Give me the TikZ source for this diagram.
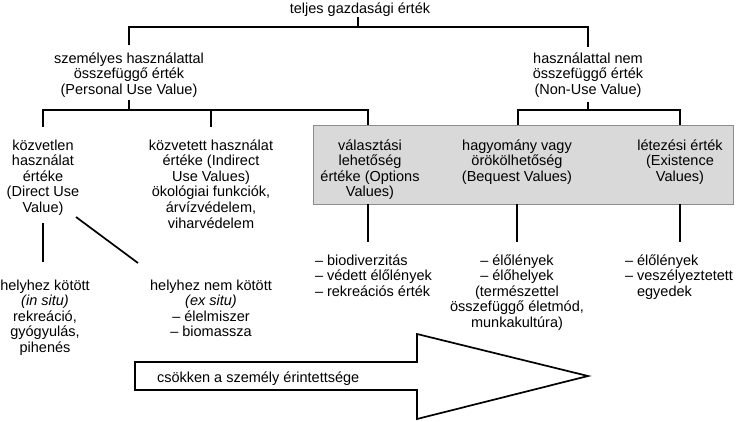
\documentclass[tikz,border=0pt]{standalone}
\usepackage{fontspec}
\setmainfont{Liberation Sans}
\newcommand\myst{\rule{0pt}{12pt}}
\definecolor{boxfill}{HTML}{D9D9D9}
\definecolor{boxline}{HTML}{8C8C8C}
\begin{document}
\begin{tikzpicture}[x=1pt,y=-1pt,
  ln/.style={line width=1.7pt, draw=black},
  txt/.style={inner sep=0pt, outer sep=0pt, font=\fontsize{14.5}{15.6}\selectfont, anchor=north, align=center},
  ltxt/.style={txt, align=left, anchor=north west}]
\useasboundingbox (0,0) rectangle (737,421);

% gray box
\node[draw=boxline, fill=boxfill, line width=1pt, inner sep=0pt, minimum width=420pt, minimum height=79pt, anchor=north west] (optbox) at (313,125) {};

% texts
\node[txt] (top) at (360,1) {\myst teljes gazdasági érték};
\node[txt] (pers) at (129,51) {\myst személyes használattal\\összefüggő érték\\(Personal Use Value)};
\node[txt] (nonuse) at (588,51) {\myst használattal nem\\összefüggő érték\\(Non-Use Value)};
\node[txt] (direct) at (43,138) {\myst közvetlen\\használat\\értéke\\(Direct Use\\Value)};
\node[txt] (indirect) at (211,138) {\myst közvetett használat\\értéke (Indirect\\Use Values)\\ökológiai funkciók,\\árvízvédelem,\\viharvédelem};
\node[txt] (option) at (370,138) {\myst választási\\lehetőség\\értéke (Options\\Values)};
\node[txt] (bequest) at (517,138) {\myst hagyomány vagy\\örökölhetőség\\(Bequest Values)};
\node[txt] (exist) at (680,138) {\myst létezési érték\\(Existence\\Values)};
\node[ltxt] (optlist) at (315,253) {\myst – biodiverzitás\\– védett élőlények\\– rekreációs érték};
\node[txt] (beqlist) at (517,253) {\myst – élőlények\\– élőhelyek\\(természettel\\összefüggő életmód,\\munkakultúra)};
\node[ltxt] (exlist) at (625,253) {\myst – élőlények\\– veszélyeztetett\\\phantom{– }egyedek};
\node[txt] (insitu) at (45,278) {\myst helyhez kötött\\\textit{(in situ)}\\rekreáció,\\gyógyulás,\\pihenés};
\node[txt] (exsitu) at (211,278) {\myst helyhez nem kötött\\\textit{(ex situ)}\\– élelmiszer\\– biomassza};

% junction coordinates
\coordinate (t0) at (358,17);
\coordinate (tL) at (129,27);
\coordinate (tR) at (588,27);
\coordinate (pT) at (129,45);
\coordinate (nT) at (588,47);
\coordinate (pB) at (129,100);
\coordinate (nB) at (588,102);
\coordinate (h1) at (43,110);
\coordinate (h2) at (211,110);
\coordinate (h3) at (368,110);
\coordinate (n1) at (518,110);
\coordinate (n2) at (680,110);
\coordinate (d1) at (43,127);
\coordinate (d2) at (211,127);
\coordinate (b1) at (368,125);
\coordinate (b2) at (518,125);
\coordinate (b3) at (680,125);
\coordinate (o1) at (368,204);
\coordinate (o2) at (517,204);
\coordinate (o3) at (680,204);
\coordinate (l1) at (368,242);
\coordinate (l2) at (517,242);
\coordinate (l3) at (680,242);
\coordinate (v1) at (43,223);
\coordinate (v2) at (43,262);
\coordinate (g1) at (76,217);
\coordinate (g2) at (138,263);

% connectors
\draw[ln] (t0) -- (t0 |- tL);
\draw[ln] (pT) -- (tL) -- (tR) -- (nT);
\draw[ln] (pB) -- (pB |- h1);
\draw[ln] (d1) -- (h1) -- (h3) -- (b1);
\draw[ln] (h2) -- (d2);
\draw[ln] (nB) -- (nB |- n1);
\draw[ln] (b2) -- (n1) -- (n2) -- (b3);
\draw[ln] (o1) -- (l1);
\draw[ln] (o2) -- (l2);
\draw[ln] (o3) -- (l3);
\draw[ln] (v1) -- (v2);
\draw[ln] (g1) -- (g2);

% big arrow
\draw[line width=1.7pt, fill=white] (135,362) -- (417,362) -- (417,334) -- (588,376) -- (417,419) -- (417,390) -- (135,390) -- cycle;
\node[txt, anchor=base west] (arrtext) at (157,382) {csökken a személy érintettsége};
\end{tikzpicture}
\end{document}
